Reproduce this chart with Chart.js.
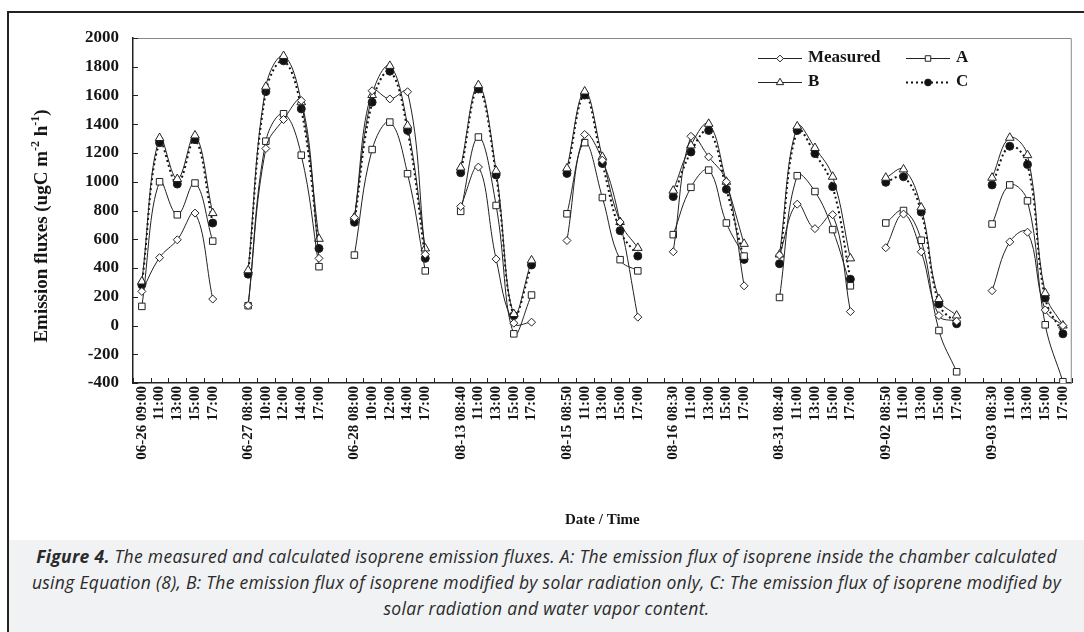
<!DOCTYPE html>
<html>
<head>
<meta charset="utf-8">
<script src="https://cdn.jsdelivr.net/npm/chart.js@4.4.0/dist/chart.umd.min.js"></script>
<style>
  html, body { margin: 0; padding: 0; background: #fff; }
  #page { position: relative; width: 1084px; height: 632px; overflow: hidden; }
  #frame { position: absolute; left: 7px; top: 11px; width: 1077px; height: 621px;
           border-left: 2px solid #222; border-top: 2px solid #222; box-sizing: border-box; }
  #wrap { position: absolute; left: 0; top: 0; width: 1084px; height: 540px; }
  #caption { position: absolute; left: 9px; top: 540px; width: 1075px; height: 92px;
             background: #f1f2f4; font-family: 'Open Sans', sans-serif; font-style: italic;
             font-size: 17.5px; letter-spacing: 0.3px; line-height: 26px; color: #2a2a2a;
             text-align: center; padding-top: 3px; box-sizing: border-box; white-space: nowrap; }
  #caption b { font-weight: bold; }
</style>
</head>
<body>
<div id="page">
  <div id="frame"></div>
  <div id="wrap"><canvas id="chart" width="1084" height="540"></canvas></div>
  <div id="caption">
    <b>Figure 4.</b> The measured and calculated isoprene emission fluxes. A: The emission flux of isoprene inside the chamber calculated<br>
    using Equation (8), B: The emission flux of isoprene modified by solar radiation only, C: The emission flux of isoprene modified by<br>
    solar radiation and water vapor content.
  </div>
</div>
<script>
// sampling days and times (one empty slot between days)
const days = ['06-26', '06-27', '06-28', '08-13', '08-15', '08-16', '08-31', '09-02', '09-03'];
const times = [
  ['09:00', '11:00', '13:00', '15:00', '17:00'],
  ['08:00', '10:00', '12:00', '14:00', '17:00'],
  ['08:00', '10:00', '12:00', '14:00', '17:00'],
  ['08:40', '11:00', '13:00', '15:00', '17:00'],
  ['08:50', '11:00', '13:00', '15:00', '17:00'],
  ['08:30', '11:00', '13:00', '15:00', '17:00'],
  ['08:40', '11:00', '13:00', '15:00', '17:00'],
  ['08:50', '11:00', '13:00', '15:00', '17:00'],
  ['08:30', '11:00', '13:00', '15:00', '17:00']
];

// emission fluxes (ugC m-2 h-1), null = gap between days
const measured = [
  237, 472, 596, 782, 184, null,
  140, 1231, 1433, 1565, 467, null,
  750, 1633, 1576, 1626, 495, null,
  828, 1102, 462, 16, 23, null,
  591, 1329, 1150, 720, 58, null,
  513, 1316, 1173, 1000, 276, null,
  490, 844, 674, 771, 97, null,
  541, 775, 513, 69, 30, null,
  242, 582, 649, 108, 0
];
const seriesA = [
  133, 1000, 770, 991, 587, null,
  138, 1282, 1473, 1185, 409, null,
  490, 1224, 1415, 1056, 380, null,
  794, 1311, 835, -58, 212, null,
  777, 1272, 890, 458, 380, null,
  632, 961, 1081, 713, 483, null,
  195, 1042, 932, 667, 276, null,
  713, 800, 593, -35, -322, null,
  706, 978, 867, 5, -391
];
const seriesB = [
  306, 1304, 1019, 1322, 782, null,
  384, 1661, 1875, 1553, 603, null,
  752, 1603, 1806, 1390, 536, null,
  1099, 1672, 1076, 80, 453, null,
  1093, 1628, 1173, 720, 540, null,
  938, 1253, 1403, 1000, 568, null,
  494, 1385, 1235, 1035, 467, null,
  1028, 1086, 821, 184, 69, null,
  1028, 1306, 1185, 225, 0
];
const seriesC = [
  283, 1272, 984, 1293, 713, null,
  357, 1627, 1841, 1507, 536, null,
  718, 1553, 1769, 1357, 467, null,
  1063, 1645, 1047, 69, 421, null,
  1058, 1603, 1127, 660, 483, null,
  897, 1207, 1357, 947, 460, null,
  430, 1357, 1196, 966, 322, null,
  996, 1035, 789, 150, 12, null,
  978, 1247, 1120, 191, -58
];
const yTicks = { min: -400, max: 2000, step: 200 };

const labels = [];
days.forEach((d, i) => {
  times[i].forEach((t, j) => labels.push(j === 0 ? d + ' ' + t : t));
  if (i < days.length - 1) labels.push('');
});

const ink = '#151515';
const serif = 'Liberation Serif, Times New Roman, serif';

const datasets = [
  { label: 'Measured', data: measured, pointStyle: 'rectRot', pointRadius: 4,
    borderColor: '#222', backgroundColor: '#fff', borderWidth: 1, borderDash: [] },
  { label: 'A', data: seriesA, pointStyle: 'rect', pointRadius: 4.6,
    borderColor: '#222', backgroundColor: '#fff', borderWidth: 1, borderDash: [] },
  { label: 'B', data: seriesB, pointStyle: 'triangle', pointRadius: 5,
    borderColor: '#222', backgroundColor: '#fff', borderWidth: 1, borderDash: [] },
  { label: 'C', data: seriesC, pointStyle: 'circle', pointRadius: 4,
    borderColor: '#111', backgroundColor: '#111', borderWidth: 2, borderDash: [2, 3] }
].map(ds => Object.assign(ds, {
  tension: 0.4,
  spanGaps: false,
  pointBorderWidth: 1,
  pointBorderColor: '#222',
  pointBackgroundColor: ds.backgroundColor,
  fill: false
}));

// inward ticks, light top/right frame, axis titles and the in-plot legend
const decor = {
  id: 'decor',
  afterDraw(chart) {
    const { ctx, chartArea: a, scales: { x, y } } = chart;
    ctx.save();
    ctx.lineWidth = 1;
    ctx.strokeStyle = '#888';
    ctx.beginPath();
    ctx.moveTo(a.left, a.top + 0.5);
    ctx.lineTo(a.right - 0.5, a.top + 0.5);
    ctx.lineTo(a.right - 0.5, a.bottom);
    ctx.stroke();

    ctx.strokeStyle = '#222';
    ctx.beginPath();
    y.ticks.forEach(t => {
      const py = Math.round(y.getPixelForValue(t.value)) + 0.5;
      ctx.moveTo(a.left, py);
      ctx.lineTo(a.left + 5, py);
    });
    const half = (x.getPixelForValue(1) - x.getPixelForValue(0)) / 2;
    for (let i = 0; i <= labels.length; i++) {
      const px = Math.round(x.getPixelForValue(i) - half) + 0.5;
      ctx.moveTo(px, a.bottom);
      ctx.lineTo(px, a.bottom - 5);
    }
    ctx.stroke();

    // axis titles
    ctx.fillStyle = ink;
    ctx.font = 'bold 15px ' + serif;
    ctx.textAlign = 'center';
    ctx.textBaseline = 'middle';
    ctx.fillText('Date / Time', (a.left + a.right) / 2, 520);

    const parts = [
      ['Emission fluxes (ugC m', 0], ['-2', 1], [' h', 0], ['-1', 1], [')', 0]
    ];
    const fontFor = s => s ? 'bold 12px ' + serif : 'bold 19px ' + serif;
    let total = 0;
    parts.forEach(([t, s]) => { ctx.font = fontFor(s); total += ctx.measureText(t).width; });
    ctx.translate(41, 226);
    ctx.rotate(-Math.PI / 2);
    ctx.textAlign = 'left';
    ctx.textBaseline = 'alphabetic';
    let cx = -total / 2;
    parts.forEach(([t, s]) => {
      ctx.font = fontFor(s);
      ctx.fillText(t, cx, s ? -2 : 6);
      cx += ctx.measureText(t).width;
    });
    ctx.setTransform(1, 0, 0, 1, 0, 0);

    // legend
    const slots = [[758, 58], [906, 58], [758, 82], [906, 82]];
    chart.data.datasets.forEach((ds, i) => {
      const [lx, ly] = slots[i];
      ctx.strokeStyle = ds.borderColor;
      ctx.lineWidth = ds.borderWidth;
      ctx.setLineDash(ds.borderDash);
      ctx.beginPath();
      ctx.moveTo(lx, ly + 0.5);
      ctx.lineTo(lx + 44, ly + 0.5);
      ctx.stroke();
      ctx.setLineDash([]);
      ctx.lineWidth = 1;
      ctx.strokeStyle = '#222';
      ctx.fillStyle = ds.pointBackgroundColor;
      Chart.helpers.drawPoint(ctx, { pointStyle: ds.pointStyle, radius: ds.pointRadius * 0.85, rotation: 0, borderWidth: 1 }, lx + 22, ly + 0.5);
      ctx.fillStyle = ink;
      ctx.font = 'bold 17px ' + serif;
      ctx.textAlign = 'left';
      ctx.textBaseline = 'middle';
      ctx.fillText(ds.label, lx + 50, ly);
    });
    ctx.restore();
  }
};

new Chart(document.getElementById('chart'), {
  type: 'line',
  data: { labels, datasets },
  options: {
    responsive: false,
    animation: false,
    devicePixelRatio: 1,
    layout: { padding: { top: 38, right: 9, left: 0, bottom: 0 } },
    plugins: { legend: { display: false }, tooltip: { enabled: false } },
    scales: {
      x: {
        type: 'category',
        offset: true,
        grid: { display: false, drawTicks: false },
        border: { display: true, color: '#222', width: 1.5 },
        ticks: {
          autoSkip: false, minRotation: 90, maxRotation: 90, padding: 3,
          color: ink, font: { family: serif, weight: 'bold', size: 15 }
        },
        afterFit: s => { s.height = 157; }
      },
      y: {
        min: yTicks.min, max: yTicks.max,
        grid: { display: false, drawTicks: false },
        border: { display: true, color: '#222', width: 1.5 },
        ticks: {
          stepSize: yTicks.step, padding: 14,
          callback: v => String(v),
          color: ink, font: { family: serif, weight: 'bold', size: 17 }
        },
        afterFit: s => { s.width = 133; }
      }
    }
  },
  plugins: [decor]
});
</script>
</body>
</html>
